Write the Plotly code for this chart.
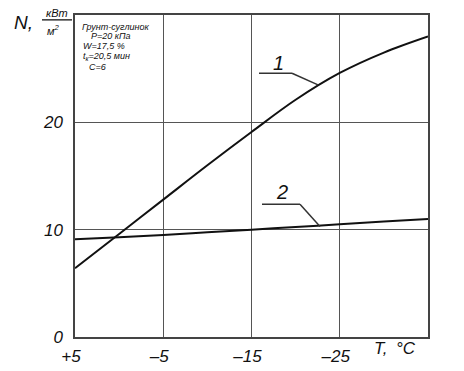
import plotly.graph_objects as go

# ---- data ----
T = [5, 0, -5, -10, -15, -20, -25, -30, -35]
N1 = [6.4, 9.6, 12.8, 16.0, 19.1, 22.1, 24.6, 26.5, 28.0]
N2 = [9.1, 9.3, 9.5, 9.75, 10.0, 10.25, 10.5, 10.75, 11.0]
x_tickvals = [5, -5, -15, -25]
x_ticktext = ["+5", "\u20135", "\u201315", "\u201325"]
y_tickvals = [0, 10, 20]
y_ticktext = ["0", "10", "20"]
info_lines = ["Грунт-суглинок", "P=20 кПа", "W=17,5 %", "t<sub>к</sub>=20,5 мин", "C=6"]

OFF = 8  # page body margin
W, H = 464 - OFF, 371 - OFF
L, R, TOP, B = 75, 428, 13, 345

def px(x):
    return (x - L) / (R - L)

def py(y):
    return (B - y) / (B - TOP)

FONT = "Liberation Sans"
ital = dict(family=FONT, style="italic", color="#111")

fig = go.Figure()
fig.add_trace(go.Scatter(x=T, y=N1, mode="lines", line=dict(color="#111", width=2, shape="spline"),
                         showlegend=False, hoverinfo="skip"))
fig.add_trace(go.Scatter(x=T, y=N2, mode="lines", line=dict(color="#111", width=2, shape="spline"),
                         showlegend=False, hoverinfo="skip"))

fig.update_layout(
    width=W, height=H,
    margin=dict(l=L - OFF, r=464 - R, t=TOP - OFF, b=371 - B, pad=0),
    paper_bgcolor="white", plot_bgcolor="white",
    showlegend=False,
    xaxis=dict(range=[5, -35], tickvals=x_tickvals, ticktext=x_ticktext,
               showgrid=True, gridcolor="#555", gridwidth=1.2,
               showline=True, linecolor="#444", linewidth=1.5, mirror=True,
               ticks="", zeroline=False, ticklabelshift=4, ticklabelstandoff=3,
               tickfont=dict(size=17, **ital)),
    yaxis=dict(range=[0, 30], tickvals=y_tickvals, ticktext=y_ticktext,
               showgrid=True, gridcolor="#555", gridwidth=1.2,
               showline=True, linecolor="#444", linewidth=1.5, mirror=True,
               ticks="", zeroline=False, ticklabelstandoff=7,
               tickfont=dict(size=17, **ital)),
)

ann = []
# Y axis title: "N," and fraction кВт / м²
ann.append(dict(x=px(23), y=py(21), text="N,", font=dict(size=19, **ital)))
ann.append(dict(x=px(57), y=py(10.5), text="кВт", font=dict(size=11, **ital)))
ann.append(dict(x=px(53), y=py(28), text="м<sup>2</sup>", font=dict(size=11, **ital)))
# X axis title
ann.append(dict(x=px(381), y=py(357), text="T,", font=dict(size=17, **ital)))
ann.append(dict(x=px(406), y=py(357), text="°C", font=dict(size=17, **ital)))
# Info block
info_pos = [(80, 25), (89, 35), (81, 45), (81, 56), (87, 67)]
for (x, y), t in zip(info_pos, info_lines):
    ann.append(dict(x=px(x), y=py(y), text=t, xanchor="left", font=dict(size=9, **ital)))
# Curve labels
ann.append(dict(x=px(278), y=py(62), text="1", font=dict(size=20, **ital)))
ann.append(dict(x=px(282), y=py(196), text="2", font=dict(size=20, **ital)))

for a in ann:
    a.setdefault("xanchor", "center")
    a.update(xref="paper", yref="paper", yanchor="middle", showarrow=False)
    fig.add_annotation(**a)

# fraction bar and leader lines
shapes = [
    ((42, 18), (72, 18)),
    ((259, 73), (292, 73)), ((292, 73), (318, 85)),
    ((262, 208), (300, 208)), ((300, 208), (320, 231)),
]
for (x0, y0), (x1, y1) in shapes:
    fig.add_shape(type="line", xref="paper", yref="paper",
                  x0=px(x0), y0=py(y0), x1=px(x1), y1=py(y1),
                  line=dict(color="#333", width=1.5))

fig.write_html("out.html")
